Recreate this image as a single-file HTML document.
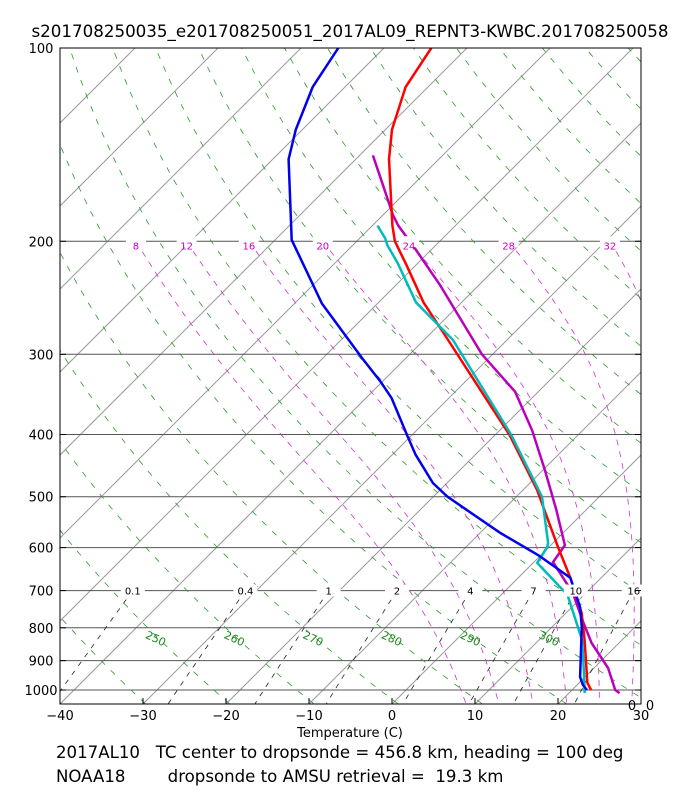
<!DOCTYPE html>
<html><head><meta charset="utf-8">
<style>
body{margin:0;background:#fff;width:700px;height:800px;overflow:hidden;font-family:"DejaVu Sans","Liberation Sans",sans-serif;}
svg text{font-family:"DejaVu Sans","Liberation Sans",sans-serif;}
</style></head>
<body>
<svg id="chart" width="700" height="800" xmlns="http://www.w3.org/2000/svg">
<defs><clipPath id="clip"><rect x="60" y="48" width="581" height="656"/></clipPath></defs>
<text x="350" y="37" font-size="16.7" text-anchor="middle">s201708250035_e201708250051_2017AL09_REPNT3-KWBC.201708250058</text>
<g id="bg" clip-path="url(#clip)"></g>
<g id="series" clip-path="url(#clip)"></g>
<rect x="60" y="48" width="581" height="656" fill="none" stroke="#000" stroke-width="1"/>
<g id="axes"></g>
<text x="350" y="737" font-size="13" text-anchor="middle">Temperature (C)</text>
<text x="56" y="758" font-size="16.6" xml:space="preserve">2017AL10   TC center to dropsonde = 456.8 km, heading = 100 deg</text>
<text x="56" y="782" font-size="16.6" xml:space="preserve">NOAA18        dropsonde to AMSU retrieval =  19.3 km</text>
</svg>
<script>
const redP=[100,115,134,149,189,200,218,249,285,401,488,599,669,759,836,975,1000];
const redT=[-74.3,-72.7,-69.2,-66.0,-57.6,-55.4,-51.1,-44.6,-37.1,-18.2,-8.3,1.1,6.3,11.9,15.5,21.0,22.3];
const blueP=[100,115,134,149,199,250,304,331,351,404,430,476,500,569,616,643,669,743,798,954,982,1000];
const blueT=[-85.5,-83.9,-80.8,-78.1,-68.0,-56.7,-45.3,-40.2,-36.9,-30.2,-27.2,-21.7,-18.3,-7.6,-0.4,3.1,6.3,11.0,13.6,19.4,20.7,21.8];
const purpleP=[147,161,182,189,206,234,300,343,394,454,524,595,632,706,786,845,924,1000,1011];
const purpleT=[-68.4,-64.3,-58.8,-56.9,-51.9,-44.7,-31.3,-22.8,-16.1,-9.8,-3.6,1.7,2.3,8.4,13.3,16.7,21.7,25.2,26.1];
const cyanP=[189,198,203,216,249,285,401,500,590,599,634,711,836,941,1011];
const cyanT=[-59.4,-56.9,-55.8,-52.5,-45.5,-36.5,-18.0,-6.9,-0.6,-0.2,0.5,8.0,15.2,19.4,21.9];
const pTicks=[100,200,300,400,500,600,700,800,900,1000];
const tTicks=[-40,-30,-20,-10,0,10,20,30];
const mixRatios=[0.1,0.4,1,2,4,7,10,16];
const thetaLabels=[250,260,270,280,290,300];
const moistLabels=[8,12,16,20,24,28,32];
const moistT200=[-86.6,-80.5,-73.0,-64.1,-53.7,-41.7,-29.5];

const NS='http://www.w3.org/2000/svg';
function yOf(p){return 690+642*Math.log10(p/1000);}
function xOf(T,p){return 60+(T+40)*8.3+(704-yOf(p));}
function el(tag,attrs,parent){const e=document.createElementNS(NS,tag);for(const k in attrs)e.setAttribute(k,attrs[k]);parent.appendChild(e);return e;}
const bg=document.getElementById('bg'),ser=document.getElementById('series'),ax=document.getElementById('axes');
function polyline(pts,stroke,w,dash,parent,name){
  const e=el('polyline',{points:pts.map(q=>q[0].toFixed(1)+','+q[1].toFixed(1)).join(' '),fill:'none',stroke:stroke,'stroke-width':w},parent);
  if(dash)e.setAttribute('stroke-dasharray',dash);
  
  
  return e;
}
for(let T=-130;T<=40;T+=10){
  polyline([[xOf(T,1050),yOf(1050)],[xOf(T,90),yOf(90)]],'#9a9a9a',1,null,bg,'isotherm');
}
pTicks.forEach(p=>{
  polyline([[60,yOf(p)],[641,yOf(p)]],'#555',1,null,bg,'isobar');
});
for(let th=200;th<=560;th+=10){
  const pts=[];for(let p=1050;p>=90;p-=10){pts.push([xOf(th*Math.pow(p/1000,0.286)-273.15,p),yOf(p)]);}
  polyline(pts,'#2a9a2a',0.8,'6,8',bg,'dry-adiabat');
}
function es(T){return 6.112*Math.exp(17.67*T/(T+243.5));}
function moistFrom200(T0){
  const pts=[];let T=T0;
  const step=(p,T)=>{const Tk=T+273.15,r=0.622*es(T)/(p-es(T));return (287*Tk+2.5e6*r)/(p*(1005+2.5e6*2.5e6*r*0.622/(287*Tk*Tk)));};
  for(let p=200;p<=1050;p+=5){pts.push([xOf(T,p),yOf(p)]);T+=step(p,T)*5;}
  return pts;
}
moistT200.forEach(t=>polyline(moistFrom200(t),'#cc33cc',0.8,'6,6',bg,'moist-adiabat'));
mixRatios.forEach(w=>{
  const pts=[];for(let p=700;p<=1050;p+=25){const e=w*p/(622+w),l=Math.log(e/6.112);const Td=243.5*l/(17.67-l);pts.push([xOf(Td,p),yOf(p)]);}
  polyline(pts,'#222',0.8,'5,6',bg,'mixing-ratio-line');
});
function label(txt,x,y,size,color,name,rot){
  const t=el('text',{x:x,y:y,'font-size':size,fill:color,'text-anchor':'middle'},ax);
  if(rot)t.setAttribute('transform','rotate('+rot+' '+x+' '+y+')');
  t.textContent=txt;
  
  
  return t;
}
mixRatios.forEach(w=>{const e=w*700/(622+w),l=Math.log(e/6.112);const Td=243.5*l/(17.67-l);const x=xOf(Td,700);
  el('rect',{x:x-12,y:yOf(700)-6,width:24,height:12,fill:'#fff'},ax);
  label(String(w),x,yOf(700)+4,10,'#000','mixing-ratio-label');});
moistLabels.forEach((m,i)=>{const x=xOf(moistT200[i],200);el('rect',{x:x-10,y:yOf(200)-5,width:20,height:11,fill:'#fff'},ax);label(String(m),x,yOf(200)+8,10,'#cc00cc','moist-adiabat-label');});
thetaLabels.forEach(th=>{const p=830;const x=xOf(th*Math.pow(p/1000,0.286)-273.15,p);label(String(th),x-4,yOf(p)+4,11,'#1a8a1a','theta-label',25);});
pTicks.forEach(p=>{
  const y=yOf(p);
  el('line',{x1:60,y1:y,x2:66,y2:y,stroke:'#000'},ax);
  el('line',{x1:635,y1:y,x2:641,y2:y,stroke:'#000'},ax);
  label(String(p),41,y+5,13,'#000','y-tick-label');
});
tTicks.forEach(T=>{
  const x=60+(T+40)*8.3;
  el('line',{x1:x,y1:704,x2:x,y2:698,stroke:'#000'},ax);
  label(T<0?'\u2212'+(-T):String(T),x,720,13,'#000','x-tick-label');
});
label('0',632,710,13,'#000','corner-label');
label('0',650,710,13,'#000','corner-label');
function series(P,T,color,name){polyline(P.map((p,i)=>[xOf(T[i],p),yOf(p)]),color,2.5,null,ser,name);}
series(purpleP,purpleT,'#bb00bb','virtual-temperature-line');
series(redP,redT,'#ff0000','temperature-line');
series(cyanP,cyanT,'#00bbbb','retrieval-temperature-line');
series(blueP,blueT,'#0000ee','dewpoint-line');
</script>
</body></html>
